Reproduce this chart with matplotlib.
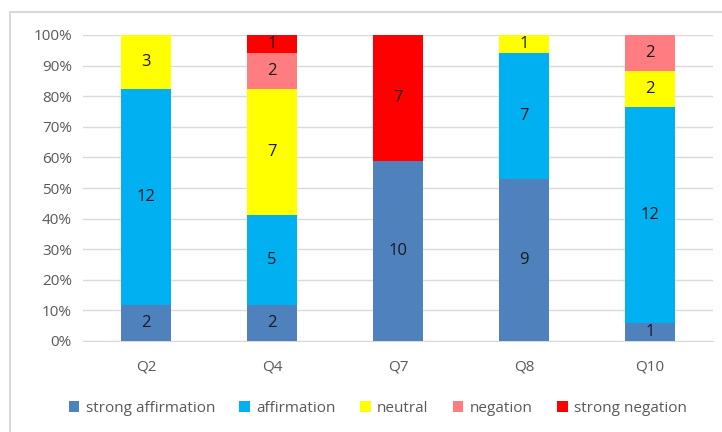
import matplotlib
matplotlib.use("Agg")
import matplotlib.pyplot as plt
from matplotlib.patches import Rectangle
import numpy as np

categories = ["Q2", "Q4", "Q7", "Q8", "Q10"]
series_names = ["strong affirmation", "affirmation", "neutral", "negation", "strong negation"]
strong_affirmation = [2, 2, 10, 9, 1]
affirmation = [12, 5, 0, 7, 12]
neutral = [3, 7, 0, 1, 2]
negation = [0, 2, 0, 0, 2]
strong_negation = [0, 1, 7, 0, 0]
colors = ["#4F81BD", "#00B0F0", "#FFFF00", "#FF7C80", "#FF0000"]

plt.rcParams['font.family'] = ['Open Sans', 'DejaVu Sans']

data = np.array([strong_affirmation, affirmation, neutral, negation, strong_negation], dtype=float)
totals = data.sum(axis=0)
pct = data / totals * 100

fig = plt.figure(figsize=(7.22, 4.32), dpi=100)
fig.patches.append(Rectangle((10/722, -0.1), 1.2, (1 - 12/432) + 0.1, transform=fig.transFigure,
                             fill=False, edgecolor="#D9D9D9", linewidth=1.5))
ax = fig.add_axes([83/722, 1 - 341/432, (713 - 83)/722, (341 - 35)/432])

x = np.arange(len(categories))
bottom = np.zeros(len(categories))
for i, name in enumerate(series_names):
    bars = ax.bar(x, pct[i], 0.4, bottom=bottom, color=colors[i], label=name, zorder=3)
    for j in range(len(categories)):
        if data[i, j] > 0:
            ax.text(x[j], bottom[j] + pct[i, j] / 2, f"{int(data[i, j])}", ha="center", va="center",
                    fontsize=12, color="#1a1a1a", zorder=4)
    bottom += pct[i]

ax.set_xlim(-0.5, len(categories) - 0.5)
ax.set_ylim(0, 100)
ax.set_yticks(np.arange(0, 101, 10))
ax.set_yticklabels([f"{v}%" for v in range(0, 101, 10)])
ax.set_xticks(x)
ax.set_xticklabels(categories)
ax.yaxis.grid(True, color="#D9D9D9", linewidth=1, zorder=0)
for s in ["top", "right", "left"]:
    ax.spines[s].set_visible(False)
ax.spines["bottom"].set_color("#D9D9D9")
ax.tick_params(axis="both", length=0, colors="#595959", labelsize=11)
ax.tick_params(axis="x", pad=13)
ax.tick_params(axis="y", pad=8)

leg = fig.legend(loc="center", bbox_to_anchor=(0.523, 1 - 408/432), ncol=5, frameon=False,
                 fontsize=11, handlelength=0.7, handleheight=0.7, handletextpad=0.4, columnspacing=1.6)
for t in leg.get_texts():
    t.set_color("#595959")

fig.savefig("out.png", dpi=100)
